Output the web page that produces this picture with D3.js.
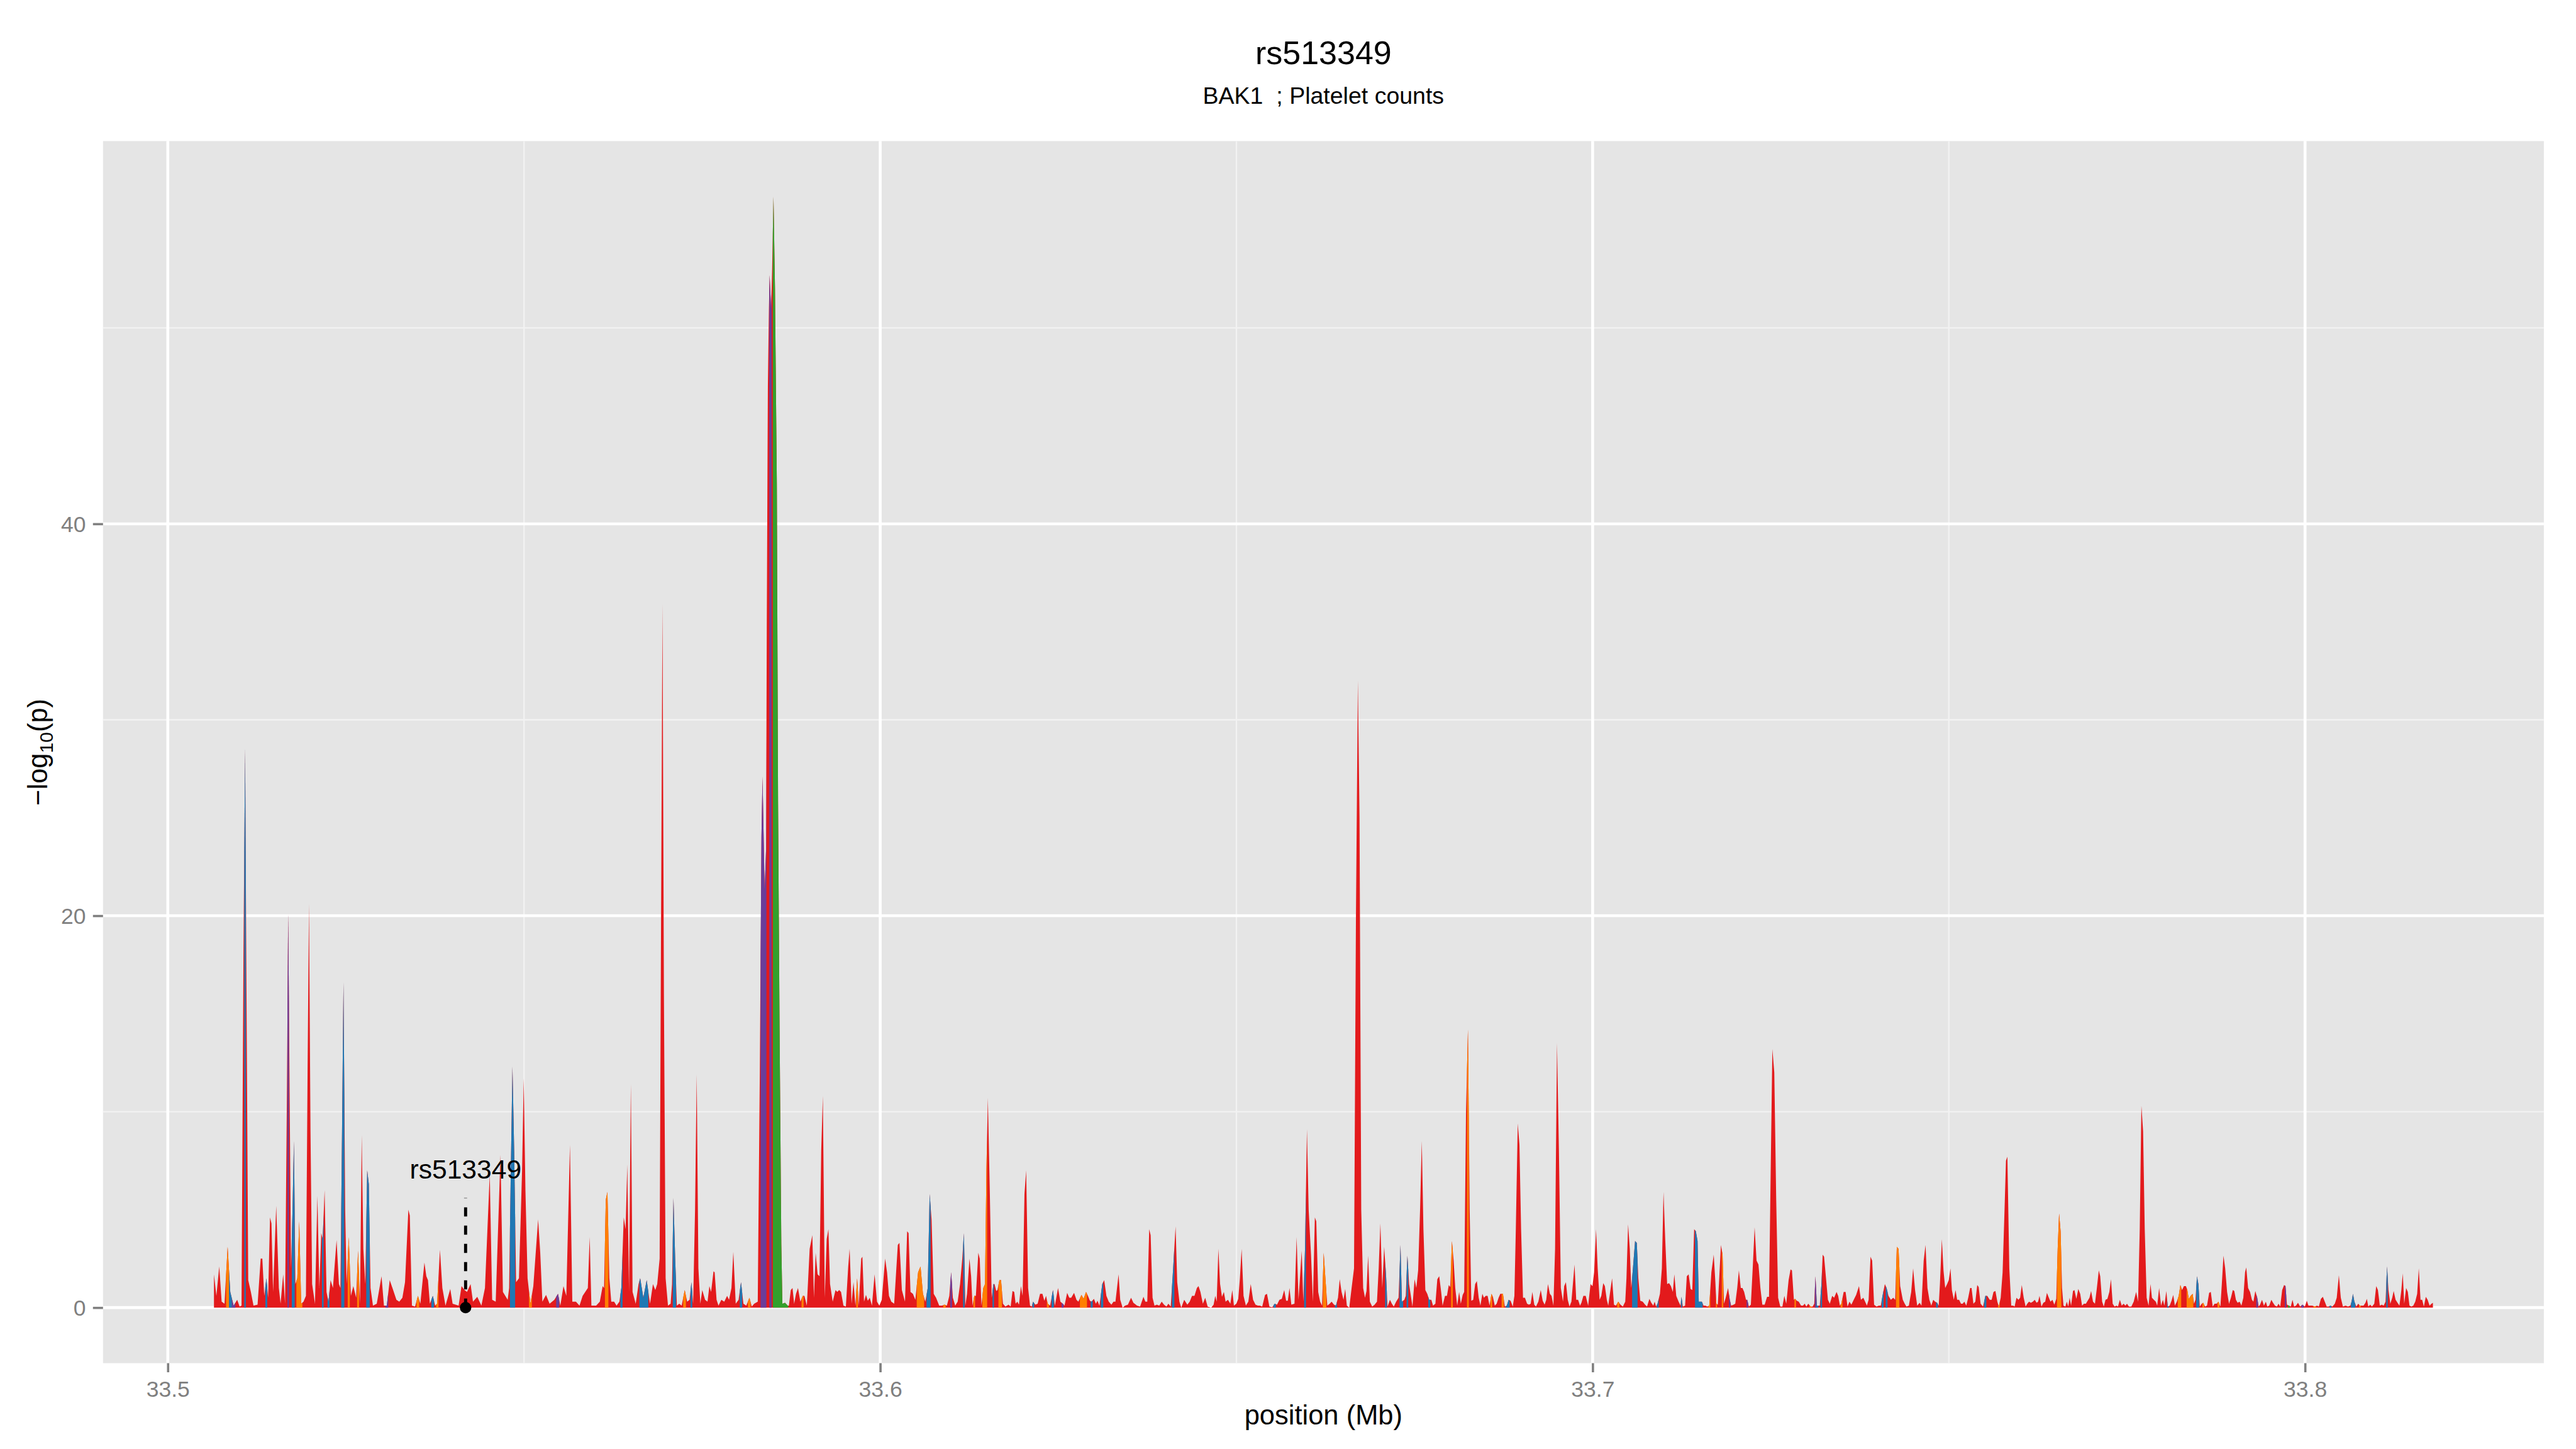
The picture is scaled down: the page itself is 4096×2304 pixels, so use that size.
<!DOCTYPE html>
<html>
<head>
<meta charset="utf-8">
<script src="https://cdn.jsdelivr.net/npm/d3@7/dist/d3.min.js"></script>
<style>
  html, body { margin: 0; padding: 0; background: #fff; }
  svg { display: block; }
</style>
</head>
<body>
<svg id="chart"></svg>
<script>
// [position (Mb), -log10(p), category] ; category left out = 0
const seg1 = [
  [33.50648,1.7],[33.50682,0.6],[33.50722,2.1],[33.50756,0.3],[33.50796,0.2],[33.5084,3.1,4],[33.50877,0.8,1],[33.50924,0.1,3],
  [33.50974,0.4],[33.51008,0.05],[33.51035,0.1],[33.51062,18],[33.51085,28.5,1],[33.51105,16],[33.51129,1.4],[33.51166,0.8],
  [33.51203,0.1],[33.5126,0.15],[33.51304,2.5],[33.51327,2.5],[33.51354,0.6],[33.51384,1.5,1],[33.51408,0.5],[33.51435,4.6],
  [33.51455,4.3],[33.51478,0.8],[33.51522,5.2],[33.51559,1.0],[33.51583,0.2],[33.5162,1.7],[33.51646,0.2],[33.5167,10],
  [33.5169,20.1,3],[33.5171,11],[33.5173,2],[33.51751,5,1],[33.51771,8.5,1],[33.51791,1.2],[33.51818,1.5,4],[33.51845,4.4,4],
  [33.51872,0.2,4],[33.51905,0.3],[33.51939,0.6],[33.51962,12],[33.51982,20.6],[33.52003,9],[33.52026,1.2],[33.52066,0.2],
  [33.521,5.7],[33.52127,1.0],[33.52154,3.8],[33.52174,3.5,1],[33.52201,6.0],[33.52228,0.8],[33.52255,0.3,1],[33.52285,1.4],
  [33.52318,1.0],[33.52369,3.45],[33.52402,1.2],[33.52423,1.0],[33.52446,9,1],[33.52466,16.6,1],[33.5249,5],[33.5251,1.2],
  [33.5254,3.6,4],[33.5257,0.6],[33.52604,1.1],[33.52644,0.5],[33.52671,2.9,4],[33.52698,0.2],[33.52722,8.8],[33.52745,3],
  [33.52772,1.2],[33.52799,7.0,1],[33.52822,6.3,1],[33.52846,1.0],[33.5288,0.1],[33.52933,0.2],[33.53,1.6],[33.53034,0.1],
  [33.53074,0.1,3],[33.53115,1.4],[33.53158,0.95],[33.53209,0.4],[33.53249,0.3],[33.53293,0.5],[33.5333,1.3],[33.53377,5.0],
  [33.53397,4.7],[33.53427,0.1],[33.53471,0.05],[33.53511,0.6,4],[33.53545,0.2],[33.53602,2.3],[33.53629,1.6],[33.53652,1.4],
  [33.53679,0.2],[33.5372,0.6,1],[33.53753,0.1],[33.5378,0.2,4],[33.5382,2.95],[33.53854,1.0],[33.53898,0.1],[33.53965,0.95],
  [33.53998,0.2],[33.54082,0.1],[33.54123,1.1],[33.54166,0.9],[33.542,0.8],[33.5425,1.2],[33.54284,0.3],[33.54344,0.55],
  [33.54402,0.1],[33.54452,1.0],[33.54519,6.8],[33.54553,0.4],[33.54603,0.3],[33.5467,7.8],[33.54704,0.8],[33.54771,0.4],
  [33.54791,1.0],[33.54815,7,1],[33.54838,12.3,1],[33.54862,8,1],[33.54889,1.3],[33.54929,1.5],[33.54973,7],[33.54996,11.7],
  [33.5502,6],[33.5505,1.5],[33.5509,0.2,4],[33.55131,1.1],[33.55198,4.5],[33.55228,2.8],[33.55258,0.3],[33.55309,0.65],
  [33.55359,0.2],[33.55426,0.4],[33.55477,0.7,3],[33.5551,0.1],[33.55554,1.1],[33.55594,0.6],[33.55645,8.3],[33.55678,0.3],
  [33.55729,0.3],[33.55779,0.1],[33.55823,0.6]
]
const seg2 = [
  [33.55896,1.0],[33.55922,3.6],[33.55946,0.1],[33.56013,0.1],[33.56064,0.3],[33.56104,1.1],[33.56124,1.0],[33.56148,5.5,4],
  [33.56171,5.9,4],[33.56198,1.5],[33.56225,0.3],[33.56265,0.3],[33.56299,0.1],[33.56339,0.3],[33.56366,1.0,1],[33.564,4.6],
  [33.56426,4.0],[33.5645,7.3],[33.56474,0.8],[33.565,11.4],[33.56524,0.8],[33.56568,0.2],[33.56608,1.2],[33.56631,1.5,1],
  [33.56675,0.5,1],[33.56722,1.4,1],[33.56769,0.2],[33.5681,1.2],[33.56843,0.9],[33.5687,1.2],[33.56904,2.5],[33.56924,20],
  [33.56944,35.9],[33.56964,16],[33.56988,1.5],[33.57021,0.1],[33.57058,0.2],[33.57078,1.2],[33.57098,5.6,1],[33.57122,2.5,1],
  [33.57146,0.1],[33.57179,0.2],[33.57213,0.1],[33.57256,0.9,4],[33.5729,0.3],[33.57324,0.4],[33.5735,1.3,1],[33.57374,0.2],
  [33.57401,5],[33.57424,11.9],[33.57448,2],[33.57475,0.2],[33.57502,0.9],[33.57542,0.4],[33.57576,0.3],[33.57602,1.1],
  [33.57626,0.8],[33.5766,1.85],[33.57676,1.8],[33.57703,0.4],[33.5773,0.1],[33.5777,0.4],[33.57811,0.3],[33.57851,0.6],
  [33.57878,0.4],[33.57912,1.0],[33.57938,2.85],[33.57972,0.2],[33.58012,0.4],[33.58046,1.3,1],[33.5808,0.2],[33.5812,0.1],
  [33.58164,0.5,4],[33.58197,0.05],[33.58231,0.2],[33.58281,0.3],[33.5831,12],[33.58333,24,3],[33.58348,27.1,3],[33.58378,21.3,3],
  [33.58398,23.4,3],[33.58408,35],[33.58423,47],[33.58438,51],[33.58448,52.7,3],[33.58468,50.9,3],[33.58483,53],[33.58502,56.7,2],
  [33.58523,52,2],[33.58549,42,2],[33.58566,25.9,2],[33.58587,14.4,2],[33.58612,3.2,2],[33.58627,0.2,2],[33.58664,0.25,2],[33.58702,0.1,2],
  [33.58718,0.1],[33.58745,0.9],[33.58769,1.0],[33.58792,0.2],[33.58818,0.7],[33.58846,1.0],[33.58879,0.3],[33.58913,0.6,4],
  [33.58936,0.6],[33.5897,0.1],[33.5901,3],[33.59047,3.7],[33.5907,0.5],[33.59094,2.8],[33.59121,1.7],[33.59148,1.6],
  [33.59172,8],[33.59195,10.8],[33.59222,0.5],[33.59249,3.5],[33.59273,4.0],[33.59296,1.2],[33.59333,0.3],[33.59373,0.9],
  [33.59397,0.8],[33.59424,0.9],[33.5945,0.8],[33.59484,0.1],[33.59518,0.05],[33.59551,2.1],[33.59571,3],[33.59598,0.2],
  [33.59625,1.3],[33.59652,0.1],[33.59676,1.5,4],[33.59699,0.1],[33.59733,2.5],[33.5975,2.6],[33.59773,0.3],[33.598,0.65],
  [33.59826,0.35],[33.59853,0.5],[33.59884,0.1],[33.59921,1.7],[33.59955,0.3],[33.59988,0.1],[33.60022,0.4],[33.60069,2.5],
  [33.60096,1.8],[33.60123,0.6],[33.60156,0.3],[33.60196,0.2],[33.60247,3.2],[33.6027,3.3],[33.60304,0.9],[33.60348,0.3],
  [33.60378,3.9],[33.60398,3.8],[33.60425,0.8],[33.60459,0.7],[33.60493,0.4],[33.60532,1.8,4],[33.60566,2.1,4],[33.606,0.7,4],
  [33.60633,0.3],[33.60667,1,1],[33.60694,5.8,1],[33.60721,4.5],[33.60751,0.7],[33.60784,0.5],[33.60828,0.1],[33.60868,0.1],
  [33.60902,0.15,4],[33.60936,0.1],[33.6097,0.6],[33.60996,1.8,3],[33.6102,0.5],[33.61053,0.1],[33.61087,0.3],[33.61121,1.2]
]
const seg3 = [
  [33.61152,2.5],[33.61175,3.8,1],[33.61195,0.1],[33.61219,0.7],[33.61253,2.5],[33.61276,1.6],[33.61296,0.1],[33.6132,0.6,4],
  [33.61343,0.6],[33.61377,2.8],[33.61397,2.5],[33.61421,0.1],[33.61447,1.0,4],[33.61471,1.2,4],[33.61491,7,4],[33.61511,10.7],
  [33.61538,6],[33.61565,0.5],[33.61589,1.2,1],[33.61605,1.2],[33.61629,0.85],[33.61646,0.9],[33.61673,1.4,4],[33.61696,1.4,4],
  [33.61723,0.2],[33.61757,0.05],[33.61802,0.15],[33.61831,0.05],[33.61857,0.85],[33.61881,0.8],[33.61901,0.2],[33.61925,0.3],
  [33.61948,0.15],[33.61975,1.1],[33.61999,0.6],[33.62025,5.8],[33.62049,7.0],[33.62076,1.0],[33.62103,0.1],[33.62126,0.05],
  [33.62146,0.3,1],[33.62177,0.15],[33.6221,0.2],[33.62244,0.7],[33.62277,0.7],[33.62304,0.35],[33.62328,0.6],[33.62351,0.2,4],
  [33.62385,0.1],[33.62425,0.9,1],[33.62452,0.1],[33.62496,1.0],[33.62529,0.3],[33.62563,0.2,3],[33.62587,0.1],[33.62624,0.75],
  [33.62654,0.5],[33.62681,0.5],[33.62721,0.75],[33.62755,0.4],[33.62781,0.3],[33.62825,0.65,4],[33.62855,0.45,4],[33.62889,0.8,4],
  [33.62916,0.6],[33.62943,0.35],[33.62966,0.3,1],[33.63,0.45],[33.63027,0.2],[33.6305,0.35],[33.63077,0.1],[33.63117,1.2,1],
  [33.63144,1.4],[33.63175,0.6],[33.63208,0.3],[33.63245,0.15],[33.63275,0.3],[33.63302,0.3],[33.63346,1.7],[33.63369,0.4],
  [33.63403,0],[33.63437,0.1],[33.63477,0.15],[33.63521,0.5],[33.63554,0.25],[33.63605,0.1],[33.63648,0.05],[33.63695,0.55],
  [33.63722,0.3],[33.63749,0.3],[33.63776,4.0],[33.63796,3.7],[33.63823,0.5],[33.6385,0.1],[33.63883,0.15],[33.63917,0.1],
  [33.63951,0.3],[33.63984,0.15],[33.64018,0.05],[33.64045,0.2],[33.64078,0.05],[33.64112,2,1],[33.64146,4.15],[33.64169,1.3],
  [33.642,0.3],[33.64226,0],[33.64267,0.4],[33.64311,0.15],[33.64344,0.3],[33.64377,0.6],[33.64411,0.6],[33.64445,1.0],
  [33.64468,1.1],[33.64495,0.8],[33.64529,0.2],[33.64562,0.5],[33.64596,0.05],[33.64646,0],[33.6468,0.15],[33.64703,0.6],
  [33.64723,0.3],[33.64747,3.0],[33.64771,1.2],[33.64797,0.55],[33.64824,0.8],[33.64848,0.3],[33.64881,0.4],[33.64915,0.2],
  [33.64942,0.9],[33.64965,0.1],[33.64999,0.2],[33.65026,0.45],[33.65049,1.5],[33.65073,3.0],[33.651,0.6],[33.65133,0.1],
  [33.65167,0.3],[33.65201,1.2],[33.65234,0.4],[33.65268,0.15],[33.65301,0.1],[33.65328,0.1],[33.65362,0.05],[33.65402,0.65],
  [33.65429,0.7],[33.65463,0.05],[33.65503,0.02],[33.65537,0.2,1],[33.6557,0.15],[33.65604,0.4],[33.65637,0.45],[33.65671,0.9],
  [33.65698,0.35],[33.65721,0.35],[33.65745,1.0],[33.65771,0.15],[33.65815,0.2],[33.65845,3.6],[33.65872,0.4],[33.65916,2.9],
  [33.65939,0.3],[33.65963,3,1],[33.6599,9.1],[33.66014,5],[33.66047,2.7],[33.66074,0.3],[33.66101,4.6],[33.66121,4.4],
  [33.66148,0.8],[33.66175,0.3],[33.66202,0.1],[33.66225,2.8,4],[33.66249,1.5,4],[33.66276,0.1],[33.66309,0.2],[33.66336,0.3],
  [33.6637,0.15],[33.66397,0.1,1]
]
const seg4 = [
  [33.66426,0.5],[33.6645,1.45],[33.66476,0.8],[33.66503,0.4],[33.66527,0.95],[33.6655,0.1],[33.66584,0],[33.66617,1.0],
  [33.66651,2],[33.66678,20],[33.66705,32],[33.66728,25],[33.66752,5],[33.66779,1.0],[33.66805,0.5],[33.66826,0.85],
  [33.66849,2.65],[33.66873,0.3],[33.66906,0.05],[33.6694,0.15],[33.66973,0.3],[33.66997,2],[33.67021,4.3],[33.67047,1.0],
  [33.67074,3.1],[33.67101,1.6,1],[33.67121,0.05],[33.67155,0.4],[33.67182,0.2],[33.67209,0.05],[33.67242,0.3],[33.67276,0.5],
  [33.67303,3.2,1],[33.67323,0.3,1],[33.67357,0.4],[33.67377,0.6],[33.674,2.65,1],[33.67424,1.2],[33.67471,0.05],[33.67501,1.45],
  [33.67525,1.0],[33.67551,1.9],[33.67578,5],[33.67602,8.5],[33.67625,4],[33.67652,0.9],[33.67679,0.7],[33.67706,0.4,1],
  [33.67736,0.4],[33.6776,0.1],[33.67793,0.2],[33.6782,1.45],[33.67847,1.6],[33.67874,0.8],[33.67894,0.1],[33.67928,0.6],
  [33.67955,0.6],[33.67981,1.15],[33.68002,1.05],[33.68025,3.4,4],[33.68049,2.4],[33.68072,1.0],[33.68099,0.1],[33.68126,0.8],
  [33.6815,0.2],[33.68176,0.65],[33.68197,0.8],[33.68223,10],[33.6825,14.2,4],[33.68274,5],[33.68297,0.35],[33.68324,0.4],
  [33.68351,1.2],[33.68375,1.35],[33.68401,0.5],[33.68425,0.1],[33.68452,0.7],[33.68475,0.5],[33.68499,0.6],[33.68526,0.6],
  [33.68553,0.1],[33.6858,0.7,4],[33.686,0.55],[33.68627,0.1],[33.68653,0.2],[33.6868,0.5],[33.68704,0.7],[33.68741,0.7,4],
  [33.68768,0.05],[33.68795,0.1,1],[33.68821,0.4,1],[33.68848,0.35],[33.68879,0.05],[33.68902,0.6],[33.68922,4],[33.68949,9.4],
  [33.68973,8.3],[33.68996,4],[33.69023,0.5],[33.6905,0.5],[33.6908,0.2],[33.69107,0.15],[33.69131,0.2],[33.69154,0.8],
  [33.69181,0.15],[33.69205,0.05],[33.69238,0.3],[33.69272,0.9],[33.69299,0.35],[33.69326,0.15],[33.69349,0.4],[33.69373,1.2],
  [33.694,0.7],[33.69423,0.6],[33.6945,0.1],[33.69473,3],[33.695,13.5],[33.69527,8],[33.69554,1.0],[33.69584,0.3],
  [33.69601,1.1],[33.69625,1.3],[33.69651,0.4],[33.69675,0.05],[33.69702,0.3],[33.69746,2.2],[33.6977,0.4],[33.69796,0.4],
  [33.69823,0.1],[33.69843,0.25],[33.6987,0.6],[33.69903,0.6],[33.69937,0.1],[33.69971,1.2],[33.69998,1.1],[33.70021,1.8],
  [33.70048,4.0],[33.70071,2],[33.70098,0.4],[33.70122,0.6],[33.70149,1.25],[33.70172,1.1],[33.70199,0.4],[33.70219,0.1],
  [33.70246,0.8],[33.70273,1.5],[33.703,0.15],[33.70327,0.1],[33.7036,0.3,4],[33.70391,0.15],[33.70424,0.05],[33.70458,0.3],
  [33.70475,1.5],[33.70498,4.25],[33.70522,3],[33.70542,1],[33.70566,2,1],[33.70596,3.4,1],[33.7062,3.3,1],[33.70642,1.5],
  [33.70669,0.35],[33.70703,0.3],[33.70736,0.15],[33.70764,0.05],[33.70797,0.45],[33.70824,0.25],[33.70851,0.1],[33.70871,0.3],
  [33.70891,0.05],[33.70911,0.2,1],[33.70945,0.7],[33.70972,2],[33.70995,5.9],[33.71019,3.5],[33.71046,1.2],[33.71073,1.25],
  [33.71099,1.1],[33.71126,0.8],[33.71147,1.7],[33.71174,0.6],[33.71207,0.3],[33.71234,0.1],[33.71247,0.55,1],[33.71267,0.05],
  [33.71298,0.1],[33.71322,1.6],[33.71348,1.7],[33.71375,0.95],[33.71399,0.9],[33.71425,4],[33.71449,3.9,1],[33.71473,3.4,1],
  [33.7149,0.3,1],[33.71533,0.3,1],[33.71557,0.1],[33.71583,0.1],[33.7161,0.05],[33.71637,0.1,4],[33.71667,1.8]
]
const seg5 = [
  [33.717,2.7],[33.71723,1.3],[33.71737,0.2,4],[33.71757,0.15],[33.71777,1.5],[33.71801,3.2],[33.71824,2.7,4],[33.71844,0.2],
  [33.71868,0.5],[33.71901,1.0],[33.71925,0.4,3],[33.71945,0.1],[33.71979,0.15],[33.72002,0.2],[33.7203,1.0],[33.72053,1.9],
  [33.7208,1.0],[33.72103,1.0],[33.72127,0.8],[33.72153,0.4],[33.7217,0.4,3],[33.72194,0.05],[33.72221,0.15],[33.72247,2],
  [33.72274,4.1],[33.72301,2.4],[33.72328,2.2],[33.72355,1.0],[33.72382,0.15],[33.72415,0.15],[33.72449,0.55],[33.72476,0.55],
  [33.72496,6],[33.72523,13.2],[33.7255,12],[33.72577,5.5],[33.72604,0.5],[33.72634,0.05],[33.72664,0.05],[33.72691,0.6],
  [33.72718,0.2],[33.72751,1.4],[33.72778,1.95],[33.72798,1.9],[33.72825,0.4],[33.72842,0.45,4],[33.72866,0.35],[33.72893,0.3],
  [33.72926,0.1],[33.72953,0.1],[33.72977,0.2],[33.73,0.05],[33.73027,0.2],[33.73061,0.05,4],[33.73088,0.05],[33.73111,0.2],
  [33.73128,1.6,3],[33.73148,0.1,1],[33.73188,0.1],[33.73212,1.2,1],[33.73229,2.7],[33.73249,2.6],[33.73276,1.5],[33.73303,0.4],
  [33.73329,0.2],[33.73363,0.6],[33.7339,0.5],[33.73424,0.8],[33.73447,0.6],[33.73471,0.1],[33.73491,0.2,4],[33.73524,0.8],
  [33.73551,0.8],[33.73578,0.05],[33.73605,0.3],[33.73632,0.15],[33.73665,0.4],[33.73699,0.65],[33.73739,1.1],[33.73766,0.4],
  [33.738,0.5],[33.7385,0.1],[33.73874,0.4],[33.73901,2.6],[33.73924,2.4],[33.73951,0.15],[33.73985,0.05],[33.74018,0.1],
  [33.74045,0.1],[33.74069,0.6,1],[33.74102,1.2],[33.74126,1.0,1],[33.74153,0.6],[33.74186,0.4],[33.7422,0.5],[33.74247,0.4],
  [33.7427,3.1,4],[33.74294,3.0,4],[33.74317,1.1],[33.74354,0.4],[33.74381,0.2],[33.74405,0.05],[33.74439,0.1],[33.74472,0.8],
  [33.74499,2.0],[33.74526,0.9],[33.74556,0.1],[33.7459,0.25],[33.74616,0.1],[33.74647,2.4],[33.74673,3.2],[33.747,1.0],
  [33.74727,0.4],[33.74754,0.1],[33.74781,0.4],[33.74808,0.3],[33.74835,0.25,1],[33.74858,0.1],[33.74875,1.2],[33.74902,3.5],
  [33.74925,1.9],[33.74949,1.0],[33.74976,1.2],[33.74999,1.4],[33.75023,2.0],[33.75043,0.9],[33.7507,0.4],[33.75094,0.9],
  [33.75117,0.4],[33.75144,0.4],[33.75171,0.2],[33.75194,0.2],[33.75218,0.3],[33.75245,0.1],[33.75272,0.5],[33.75299,1.0],
  [33.75319,1.0],[33.75345,0.2],[33.75372,0.3],[33.75399,1.15],[33.75419,1.05],[33.75446,0.2],[33.7548,0.05],[33.75513,0.6,1],
  [33.7554,0.6],[33.75574,0.4],[33.75601,0.4],[33.75627,0.8],[33.75654,0.85],[33.75681,0.3],[33.75701,0.05,4],[33.75728,0.5],
  [33.75755,1.8],[33.75782,5],[33.75802,7.5],[33.75822,7.7],[33.75849,2],[33.75876,0.1],[33.75903,0.1],[33.75923,0.05],
  [33.7595,0.5],[33.75977,0.4],[33.76001,0.5],[33.76024,1.15],[33.76051,0.5],[33.76078,0.05],[33.76101,0.2],[33.76125,0.3],
  [33.76152,0.25],[33.76179,0.3],[33.76206,0.4],[33.76232,0.25],[33.76253,0.3],[33.76273,0.6],[33.763,0.05],[33.76327,0.25],
  [33.76353,0.3],[33.76377,0.75],[33.76404,0.5],[33.76427,0.3],[33.76454,0.4],[33.76481,0.15],[33.76508,0.45],[33.76528,3,4],
  [33.76548,4.8,4],[33.76569,3.9,4],[33.76589,1.0],[33.76609,0.1],[33.76636,0.05],[33.76656,0.3],[33.76676,0.05],[33.76696,0.5],
  [33.76716,0.1],[33.76743,0.85],[33.76763,0.9],[33.7679,0.45],[33.76817,0.95],[33.76844,0.7],[33.7687,0.1],[33.76897,0.2],
  [33.76924,0.2]
]
const seg6 = [
  [33.76974,0.5],[33.76997,0.85],[33.77024,0.3],[33.77051,0.2],[33.77078,1.0],[33.77105,1.9],[33.77125,1.6],[33.77152,0.3],
  [33.77175,0.05],[33.77199,0.4],[33.77226,0.45],[33.77253,0.8],[33.77276,1.45],[33.773,0.2],[33.77327,0.05],[33.77353,0.1],
  [33.77374,0.05],[33.77401,0.4],[33.77427,0.1],[33.77454,0.2],[33.77478,0.1],[33.77501,0.2],[33.77528,0.05],[33.77562,0.05],
  [33.77595,0.3],[33.77629,0.8],[33.77656,0.3],[33.7768,4],[33.77703,10.3],[33.77727,9],[33.7775,4],[33.77777,0.5],
  [33.77804,0.1],[33.77831,1.2],[33.77851,0.5],[33.77878,0.4],[33.77905,0.3],[33.77925,0.1],[33.77952,1.0],[33.77979,0.1],
  [33.78005,0.4],[33.78026,0.1],[33.78053,0.85],[33.78073,0.05,1],[33.781,0.1],[33.78126,0.35],[33.7815,0.65],[33.78173,0.1],
  [33.782,0.3],[33.78227,0.6,4],[33.7825,1.15,4],[33.78274,0.9],[33.783,1.1],[33.78328,1.1],[33.78348,0.9,4],[33.78368,0.45,4],
  [33.78395,0.6,4],[33.78422,0.7,4],[33.78442,0.2],[33.78462,0.4],[33.78483,1.6,1],[33.78503,1.2,1],[33.78523,0.05],[33.7855,0.2],
  [33.7857,0.25,4],[33.78597,0.05],[33.78624,0.1],[33.78654,0.75],[33.78677,0.8],[33.78704,0.05],[33.78731,0.2],[33.78758,0.2],
  [33.78785,0.3,4],[33.78812,0.05],[33.78832,1.2],[33.78855,2.65],[33.78879,2.0],[33.78906,0.8],[33.78933,0.2],[33.7896,0.5],
  [33.78986,0.9],[33.79007,0.85],[33.7903,0.4],[33.79054,0.25],[33.79081,0.3],[33.79107,0.1],[33.79134,0.5],[33.79158,1.8],
  [33.79175,2.05],[33.79201,1.0],[33.79228,0.8],[33.79255,0.4],[33.79275,0.3],[33.79302,0.85],[33.79329,0.5,3],[33.79349,0.05],
  [33.79369,0.15],[33.79396,0.4],[33.79423,0.1],[33.7945,0.3],[33.7947,0.05],[33.79497,0.1],[33.79527,0.4],[33.79551,0.25],
  [33.79578,0.1],[33.79605,0.05],[33.79628,0.2],[33.79652,0.05],[33.79679,0.9],[33.79706,1.15],[33.79726,1.1,3],[33.79746,0.15],
  [33.79773,0.1,2],[33.798,0.05],[33.79824,0.4],[33.79847,0.05],[33.79874,0.1],[33.79901,0.25],[33.79931,0.05],[33.79964,0.15,3],
  [33.79998,0.05],[33.80025,0.35],[33.80048,0.1],[33.80075,0.1],[33.80102,0.1],[33.80136,0.05,4],[33.80169,0.1],[33.80193,0.05],
  [33.80223,0.45],[33.8025,0.55],[33.80277,0.3],[33.80304,0.05],[33.8033,0.05],[33.80357,0.1,1],[33.80384,0.05],[33.80418,0.2],
  [33.80445,0.5],[33.80475,1.65],[33.80502,0.5],[33.80532,0.05],[33.80569,0.1],[33.80603,0.05],[33.80636,0.1],[33.80653,0.3,1],
  [33.80673,0.7,1],[33.80693,0.3,1],[33.8072,0.05],[33.80747,0.2],[33.8077,0.1,4],[33.80794,0.1],[33.80821,0.1],[33.80848,0.25],
  [33.80868,0.45],[33.80888,0.05],[33.80915,0.15],[33.80939,0.05],[33.80972,0.2],[33.80999,1.1],[33.81023,0.9],[33.8105,0.1],
  [33.81077,0.15],[33.81104,0.1],[33.8113,0.3],[33.81151,2.1,1],[33.81171,0.9],[33.81197,0.2],[33.81224,0.5],[33.81244,0.85],
  [33.81271,0.4],[33.81298,0.25],[33.81325,0.1],[33.81352,0.9],[33.81372,1.75],[33.81392,0.2],[33.81419,1.0],[33.81443,0.8],
  [33.81466,0.1],[33.81493,0.05],[33.8152,0.1],[33.81547,0.3],[33.81574,0.7],[33.81597,2],[33.81621,0.4],[33.81644,0.4],
  [33.81668,0.05],[33.81695,0.55],[33.81721,0.4],[33.81748,0.1],[33.81775,0.2],[33.81795,0.25]
]

const categories = ['c0', 'c1', 'c2', 'c3', 'c4']
const categoryColors = ['#E31A1C', '#1F78B4', '#33A02C', '#6A3D9A', '#FF7F00']
const xTicks = [33.5, 33.6, 33.7, 33.8]
const xMinorTicks = [33.55, 33.65, 33.75]
const yTicks = [0, 20, 40]
const yMinorTicks = [10, 30, 50]
const titleLines = ['rs513349', 'BAK1  ; Platelet counts']
const leadSnp = { name: 'rs513349', pos: 33.5418 }

const W = 4096
const H = 2304
const panel = { left: 163.8, right: 4044.9, top: 224.3, bottom: 2167.5 }
const font = '"Liberation Sans", Arial, Helvetica, sans-serif'
const grey = '#7F7F7F'

const snps = [].concat(seg1, seg2, seg3, seg4, seg5, seg6)
  .map(([pos, logp, cat = 0]) => ({ pos, logp, cat }))
  .sort((a, b) => a.pos - b.pos)

// ggplot style 5% expansion on both axes
const xExt = d3.extent(snps, (d) => d.pos)
const xPad = (xExt[1] - xExt[0]) * 0.05
const x = d3.scaleLinear([xExt[0] - xPad, xExt[1] + xPad], [panel.left, panel.right])
const yMax = d3.max(snps, (d) => d.logp)
const y = d3.scaleLinear([-yMax * 0.05, yMax * 1.05], [panel.bottom, panel.top])
const color = d3.scaleOrdinal(d3.range(categories.length), categoryColors)

const svg = d3.select('#chart').attr('width', W).attr('height', H)
svg.append('rect').attr('width', W).attr('height', H).attr('fill', '#fff')

// Panel + grid
svg.append('rect')
  .attr('x', panel.left).attr('y', panel.top)
  .attr('width', panel.right - panel.left).attr('height', panel.bottom - panel.top)
  .attr('fill', '#E5E5E5')

const grid = svg.append('g')
grid.selectAll('line.xminor').data(xMinorTicks).join('line')
  .attr('x1', x).attr('x2', x).attr('y1', panel.top).attr('y2', panel.bottom)
  .attr('stroke', '#F2F2F2').attr('stroke-width', 2.3)
grid.selectAll('line.yminor').data(yMinorTicks).join('line')
  .attr('y1', y).attr('y2', y).attr('x1', panel.left).attr('x2', panel.right)
  .attr('stroke', '#F2F2F2').attr('stroke-width', 2.3)
grid.selectAll('line.xmajor').data(xTicks).join('line')
  .attr('x1', x).attr('x2', x).attr('y1', panel.top).attr('y2', panel.bottom)
  .attr('stroke', '#fff').attr('stroke-width', 4.6)
grid.selectAll('line.ymajor').data(yTicks).join('line')
  .attr('y1', y).attr('y2', y).attr('x1', panel.left).attr('x2', panel.right)
  .attr('stroke', '#fff').attr('stroke-width', 4.6)

// Main profile
const area = d3.area()
  .x((d) => x(d.pos))
  .y0(y(0))
  .y1((d) => y(d.logp))

const plot = svg.append('g').classed('plot', true)
plot.append('path').datum(snps).attr('d', area).attr('fill', color(0))

// runs of non-default categories, coloured from half-way to their neighbours
const runs = []
snps.forEach((d, i) => {
  if (d.cat === 0) return
  const last = runs[runs.length - 1]
  if (last && last.cat === d.cat && last.end === i - 1) last.end = i
  else runs.push({ cat: d.cat, start: i, end: i })
})
const mid = (a, b) => ({ pos: (a.pos + b.pos) / 2, logp: (a.logp + b.logp) / 2 })
runs.forEach((r) => {
  const pts = []
  pts.push(r.start > 0 ? mid(snps[r.start - 1], snps[r.start]) : snps[r.start])
  for (let i = r.start; i <= r.end; i++) pts.push(snps[i])
  pts.push(r.end < snps.length - 1 ? mid(snps[r.end], snps[r.end + 1]) : snps[r.end])
  r.pts = pts
})
plot.selectAll('path.run').data(runs).join('path')
  .attr('class', 'run')
  .attr('d', (r) => area(r.pts))
  .attr('fill', (r) => color(r.cat))

// Lead SNP marker
const lead = svg.append('g')
lead.append('line')
  .attr('x1', x(leadSnp.pos)).attr('x2', x(leadSnp.pos))
  .attr('y1', y(0)).attr('y2', y(5.6))
  .attr('stroke', '#000').attr('stroke-width', 4.9)
  .attr('stroke-dasharray', '14.5,14.5')
lead.append('circle')
  .attr('cx', x(leadSnp.pos)).attr('cy', y(0)).attr('r', 9.1)
  .attr('fill', '#000')
lead.append('text')
  .attr('x', x(leadSnp.pos)).attr('y', y(6.58))
  .attr('text-anchor', 'middle')
  .attr('font-family', font).attr('font-size', 42.6)
  .attr('fill', '#000')
  .text(leadSnp.name)

// X Axis
const xAxis = d3.axisBottom(x).tickValues(xTicks).tickFormat(d3.format('.1f')).tickSize(14.5)
const xAxisEl = svg.append('g')
  .attr('transform', `translate(0,${ panel.bottom })`)
  .call(xAxis)
xAxisEl.select('.domain').remove()
xAxisEl.selectAll('.tick line').attr('stroke', grey).attr('stroke-width', 3.6)
xAxisEl.selectAll('.tick text')
  .attr('y', 53).attr('dy', null)
  .attr('fill', grey).attr('font-family', font).attr('font-size', 35.5)

// Y Axis
const yAxis = d3.axisLeft(y).tickValues(yTicks).tickSize(16)
const yAxisEl = svg.append('g')
  .attr('transform', `translate(${ panel.left },0)`)
  .call(yAxis)
yAxisEl.select('.domain').remove()
yAxisEl.selectAll('.tick line').attr('stroke', grey).attr('stroke-width', 3.6)
yAxisEl.selectAll('.tick text')
  .attr('x', -27.3).attr('dy', '0.35em')
  .attr('fill', grey).attr('font-family', font).attr('font-size', 35.5)

// Axis titles
const cx = (panel.left + panel.right) / 2
const cy = (panel.top + panel.bottom) / 2
svg.append('text')
  .attr('x', cx).attr('y', 2265)
  .attr('text-anchor', 'middle')
  .attr('font-family', font).attr('font-size', 43.5)
  .text('position (Mb)')

const yTitle = svg.append('text')
  .attr('transform', `translate(75,${ cy }) rotate(-90)`)
  .attr('text-anchor', 'middle')
  .attr('font-family', font).attr('font-size', 43.5)
yTitle.append('tspan').text('\u2212log')
yTitle.append('tspan').attr('font-size', 30).attr('dy', 9).text('10')
yTitle.append('tspan').attr('dy', -9).text('(p)')

// Title
svg.append('text')
  .attr('x', cx).attr('y', 102.4)
  .attr('text-anchor', 'middle')
  .attr('font-family', font).attr('font-size', 52)
  .text(titleLines[0])
svg.append('text')
  .attr('x', cx).attr('y', 165)
  .attr('text-anchor', 'middle')
  .attr('font-family', font).attr('font-size', 37.5)
  .style('white-space', 'pre')
  .text(titleLines[1])
</script>
</body>
</html>
